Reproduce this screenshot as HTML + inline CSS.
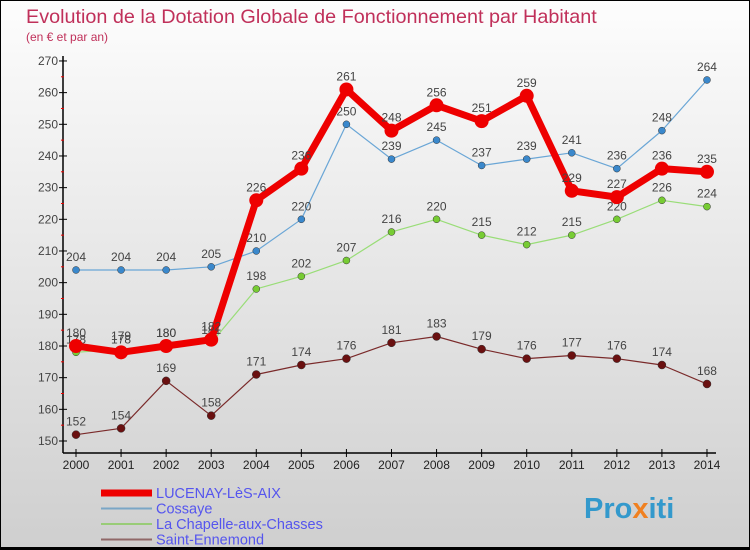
<!DOCTYPE html>
<html><head><meta charset="utf-8"><style>
body{margin:0}
#c{width:750px;height:550px;position:relative;box-sizing:border-box;border:1px solid #000;border-bottom:3px solid #000;background:linear-gradient(#fdfdfd,#cfcfcf);overflow:hidden;font-family:"Liberation Sans",sans-serif}
</style></head><body>
<div id="c">
<svg id="s" width="750" height="550" style="position:absolute;left:0;top:0">
<text x="25" y="22" font-size="19.8" fill="#c0305a">Evolution de la Dotation Globale de Fonctionnement par Habitant</text>
<text x="25" y="40" font-size="12" fill="#c0305a">(en € et par an)</text>
<text x="583" y="517" font-size="29" font-weight="bold" fill="#3399cc">Pro<tspan fill="#f08020">x</tspan>iti</text>
</svg>
</div>
<script>
const years=[2000,2001,2002,2003,2004,2005,2006,2007,2008,2009,2010,2011,2012,2013,2014];
const lucenay=[180,178,180,182,226,236,261,248,256,251,259,229,227,236,235];
const cossaye=[204,204,204,205,210,220,250,239,245,237,239,241,236,248,264];
const chapelle=[178,179,180,181,198,202,207,216,220,215,212,215,220,226,224];
const saint=[152,154,169,158,171,174,176,181,183,179,176,177,176,174,168];
const yTicks=[150,160,170,180,190,200,210,220,230,240,250,260,270];
const NS="http://www.w3.org/2000/svg";
const svg=document.getElementById('s');
const X=i=>75+i*45.07;
const Y=v=>440-(v-150)*3.167;
function mk(t,a,p){const e=document.createElementNS(NS,t);for(const k in a)e.setAttribute(k,a[k]);(p||svg).appendChild(e);return e;}
let ax=mk('line',{x1:62,y1:55,x2:62,y2:452,stroke:'#000','stroke-width':1.5});


let bx=mk('line',{x1:62,y1:452,x2:715,y2:452,stroke:'#000','stroke-width':1.5});


yTicks.forEach((v,i)=>{
  mk('line',{x1:58,y1:Y(v),x2:66,y2:Y(v),stroke:'#000'});
  if(i<yTicks.length-1) mk('line',{x1:60,y1:Y(v+5),x2:63,y2:Y(v+5),stroke:'#e00'});
  const t=mk('text',{x:57,y:Y(v)+4,'text-anchor':'end','font-size':12,fill:'#444'});
  t.textContent=v;
  
  
});
years.forEach((yr,i)=>{
  mk('line',{x1:X(i),y1:448,x2:X(i),y2:456,stroke:'#000'});
  const t=mk('text',{x:X(i),y:468,'text-anchor':'middle','font-size':12,fill:'#222'});
  t.textContent=yr;
  
  
});
const series=[
 {d:saint,c:'#7a2a2a',w:1.2,r:4,f:'#6a1010',n:'saint-ennemond'},
 {d:chapelle,c:'#99dd77',w:1.2,r:3.5,f:'#77cc33',n:'la-chapelle'},
 {d:cossaye,c:'#6aa6d6',w:1.2,r:3.5,f:'#3a88cc',n:'cossaye'},
 {d:lucenay,c:'#ee0000',w:7,r:7,f:'#ee0000',n:'lucenay'}
];
series.forEach(s=>{
  const pl=mk('polyline',{points:s.d.map((v,i)=>X(i)+','+Y(v)).join(' '),fill:'none',stroke:s.c,'stroke-width':s.w,'stroke-linejoin':'round'});
  
  
  s.d.forEach((v,i)=>{
    const c=mk('circle',{cx:X(i),cy:Y(v),r:s.r,fill:s.f,stroke:s.n==='lucenay'?'none':'#333','stroke-width':0.5});
    
    
    const t=mk('text',{x:X(i),y:Y(v)-9,'text-anchor':'middle','font-size':12,fill:'#444'});
    t.textContent=v;
    
    
  });
});
const leg=[['LUCENAY-LèS-AIX','#ee0000',7],['Cossaye','#7aa6c6',2],['La Chapelle-aux-Chasses','#99cc77',2],['Saint-Ennemond','#906868',2]];
leg.forEach((l,i)=>{
  const y=492+i*15.5;
  const ln=mk('line',{x1:100,y1:y,x2:151,y2:y,stroke:l[1],'stroke-width':l[2]});
  
  
  const t=mk('text',{x:155,y:y+5,'font-size':14.5,fill:'#5555ee'});
  t.textContent=l[0];
  
  
});
</script>
</body></html>
